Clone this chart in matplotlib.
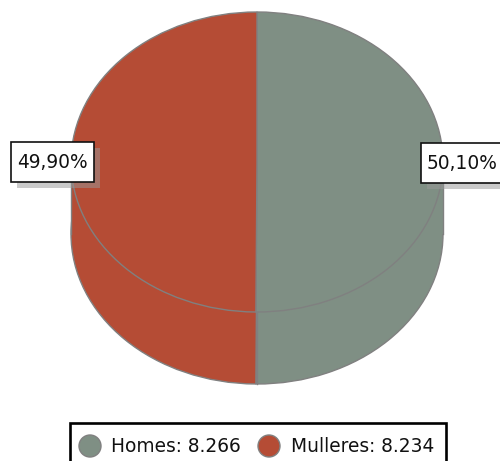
import matplotlib
matplotlib.use('Agg')
import matplotlib.pyplot as plt
from matplotlib.patches import Rectangle, Circle

# Datos
categorias = ['Homes', 'Mulleres']
valores = [8266, 8234]
etiquetas = ['50,10%', '49,90%']
legenda = ['Homes: 8.266', 'Mulleres: 8.234']
cores = ['#7f8f84', '#b54c35']
borde = '#808080'

plt.rcParams['font.family'] = ['DejaVu Sans']

fig = plt.figure(figsize=(5, 4.61), dpi=100)

# Pastel: 1 unidade = 186 px en x e 150 px en y
ax = fig.add_axes([0, 0, 1, 1])
profundidade = 72 / 150

ax.pie(valores, colors=cores, startangle=90, counterclock=False, center=(0, -profundidade),
       wedgeprops={'edgecolor': borde, 'linewidth': 1.0})
ax.add_patch(Rectangle((-1, -profundidade), 1, profundidade, facecolor=cores[1], edgecolor='none', zorder=2))
ax.add_patch(Rectangle((0, -profundidade), 1, profundidade, facecolor=cores[0], edgecolor='none', zorder=2))
ax.plot([-1, -1], [0, -profundidade], color=borde, lw=1.0, zorder=3)
ax.plot([1, 1], [0, -profundidade], color=borde, lw=1.0, zorder=3)
ax.plot([0, 0], [0, -profundidade - 1], color=borde, lw=1.0, zorder=3)
fatias, _ = ax.pie(valores, colors=cores, startangle=90, counterclock=False,
                   wedgeprops={'edgecolor': borde, 'linewidth': 1.0})
for f in fatias:
    f.set_zorder(4)

ax.set_aspect('auto')
ax.set_xlim(-257 / 186, (500 - 257) / 186)
ax.set_ylim(-(461 - 162) / 150, 162 / 150)
ax.axis('off')

# Capa superior en pixeles para etiquetas e lenda
ov = fig.add_axes([0, 0, 1, 1])
ov.set_xlim(0, 500)
ov.set_ylim(461, 0)
ov.axis('off')
ov.patch.set_alpha(0)

# Etiquetas coa sombra
for x, y, w, txt in [(11, 142, 83, etiquetas[1]), (420.5, 143, 84, etiquetas[0])]:
    ov.add_patch(Rectangle((x + 6, y + 6), w, 40, facecolor='#999999', alpha=0.5, edgecolor='none'))
    ov.add_patch(Rectangle((x, y), w, 40, facecolor='white', edgecolor='#111111', lw=1.2))
    ov.text(x + 6, y + 20.5, txt, fontsize=13.4, ha='left', va='center', color='#111111')

# Lenda
ov.add_patch(Rectangle((69.5, 422.5), 376, 60, facecolor='white', edgecolor='black', lw=1.9, clip_on=True))
ov.add_patch(Circle((90, 446), 11, facecolor=cores[0], edgecolor=borde, lw=1))
ov.add_patch(Circle((269, 446), 11, facecolor=cores[1], edgecolor=borde, lw=1))
ov.text(111, 446, legenda[0], fontsize=13.4, ha='left', va='center', color='#111111')
ov.text(291, 446, legenda[1], fontsize=13.4, ha='left', va='center', color='#111111')

fig.savefig('out.png', dpi=100)
